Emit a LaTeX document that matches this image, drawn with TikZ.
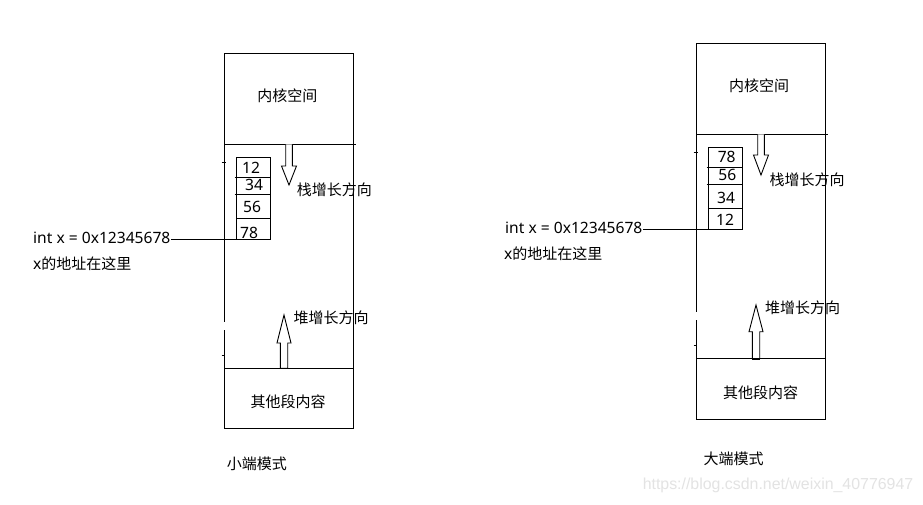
\documentclass[tikz,border=0pt]{standalone}
\usepackage{fontspec}
\setmainfont{Noto Sans}
\newfontfamily\cjk{Noto Sans CJK SC}
\newfontfamily\latin{Noto Sans}
\newfontfamily\wmfont{Liberation Sans}
\begin{document}
\begin{tikzpicture}[x=1pt,y=-1pt,
  frame/.style={draw, line width=0.9pt, inner sep=0pt, rectangle},
  ln/.style={line width=0.9pt},
  lbl/.style={inner sep=0pt, font=\cjk\fontsize{15}{18}\selectfont},
  num/.style={inner sep=0pt, font=\latin\fontsize{15.6}{18}\selectfont},
  hollow/.style={draw, line width=0.9pt, fill=white, line join=miter}]
\useasboundingbox (0,0) rectangle (923,504);
\fill[white] (0,0) rectangle (923,504);

% ================= LEFT: little endian =================
\node[frame, minimum width=129pt, minimum height=375.4pt] (outL) at (288.8,241) {};
\coordinate (kL1) at (224.3,144.3);
\coordinate (kL2) at (355.5,144.3);
\draw[ln] (kL1) -- (kL2);
\coordinate (bL1) at (224.3,368.3);
\coordinate (bL2) at (353.3,368.3);
\draw[ln] (bL1) -- (bL2);
% gap and ticks on left edge
\fill[white] (222,321.7) rectangle (227,330);
\draw[line width=0.8pt] (221.5,162.3) -- (226,162.3);
\draw[line width=0.8pt] (221.5,355) -- (224.3,355);

\node[lbl] (kernL) at (287.3,96) {内核空间};
\node[lbl] (otherL) at (288,401.7) {其他段内容};
\node[lbl, anchor=west] (titleL) at (226.7,464) {小端模式};

% stack cells
\node[frame, minimum width=33.6pt, minimum height=82pt] (sbL) at (253.5,198.3) {};
\draw[ln] (234.5,177.5) -- (sbL.east |- 0,177.5);
\draw[ln] (234.5,194.3) -- (sbL.east |- 0,194.3);
\draw[ln] (sbL.west |- 0,218.3) -- (sbL.east |- 0,218.3);
\node[num] (c12L) at (251,168) {12};
\node[num] (c34L) at (254,184.5) {34};
\node[num] (c56L) at (252,206.5) {56};
\node[num] (c78L) at (249,233) {78};

% stack arrow (down)
\draw[hollow] (285.7,144.3) -- (285.7,166) -- (281.5,166) -- (289,185) -- (296.5,166) -- (292.3,166) -- (292.3,144.3);
\node[lbl, anchor=west] (stkL) at (296.7,190) {栈增长方向};
% heap arrow (up)
\draw[hollow] (280.3,368.3) -- (280.3,343) -- (277,343) -- (284,315) -- (291,343) -- (287.7,343) -- (287.7,368.3) -- cycle;
\draw[line width=1.6pt] (280.3,368.3) -- (287.7,368.3);
\node[lbl, anchor=west] (heapL) at (293.3,317.3) {堆增长方向};

% variable label and connector
\node[num, anchor=west] (intL) at (33,238.3) {int x = 0x12345678};
\node[lbl, anchor=west] (addrL) at (33,263.3) {{\latin\fontsize{15.6}{18}\selectfont x}的地址在这里};
\draw[ln] ([xshift=0.5pt]intL.east |- sbL.south west) -- (sbL.south west);

% ================= RIGHT: big endian =================
\node[frame, minimum width=129.4pt, minimum height=376pt] (outR) at (761,231.3) {};
\coordinate (kR1) at (696.3,134.3);
\coordinate (kR2) at (827.5,134.3);
\draw[ln] (kR1) -- (kR2);
\coordinate (bR1) at (696.3,358.7);
\coordinate (bR2) at (825.7,358.7);
\draw[ln] (bR1) -- (bR2);
\fill[white] (694,311.7) rectangle (699,320);
\draw[line width=0.8pt] (693.5,152.3) -- (698,152.3);
\draw[line width=0.8pt] (693.5,345) -- (696.3,345);

\node[lbl] (kernR) at (759,86) {内核空间};
\node[lbl] (otherR) at (760.7,392.3) {其他段内容};
\node[lbl, anchor=west] (titleR) at (703.3,459) {大端模式};

\node[frame, minimum width=34pt, minimum height=82pt] (sbR) at (725.3,188.3) {};
\draw[ln] (706.5,167) -- (sbR.east |- 0,167);
\draw[ln] (706.5,184.3) -- (sbR.east |- 0,184.3);
\draw[ln] (sbR.west |- 0,208.3) -- (sbR.east |- 0,208.3);
\node[num] (c78R) at (726.7,156.5) {78};
\node[num] (c56R) at (727.3,175) {56};
\node[num] (c34R) at (726,198.3) {34};
\node[num] (c12R) at (725,220) {12};

\draw[hollow] (757.7,134.3) -- (757.7,155) -- (753.5,155) -- (761,175) -- (768.5,155) -- (764.3,155) -- (764.3,134.3);
\node[lbl, anchor=west] (stkR) at (769.3,180) {栈增长方向};
\draw[hollow] (752.3,358.7) -- (752.3,331.7) -- (749,331.7) -- (756,305) -- (763,331.7) -- (759.7,331.7) -- (759.7,358.7) -- cycle;
\draw[line width=1.6pt] (752.3,358.7) -- (759.7,358.7);
\node[lbl, anchor=west] (heapR) at (765,307.7) {堆增长方向};

\node[num, anchor=west] (intR) at (505,228.3) {int x = 0x12345678};
\node[lbl, anchor=west] (addrR) at (504,253.3) {{\latin\fontsize{15.6}{18}\selectfont x}的地址在这里};
\draw[ln] ([xshift=0.5pt]intR.east |- sbR.south west) -- (sbR.south west);

% watermark
\node[inner sep=0pt, text=black!11, font=\wmfont\fontsize{15.9}{18}\selectfont] (wm) at (778,485) {https://blog.csdn.net/weixin\_40776947};
\end{tikzpicture}
\end{document}
